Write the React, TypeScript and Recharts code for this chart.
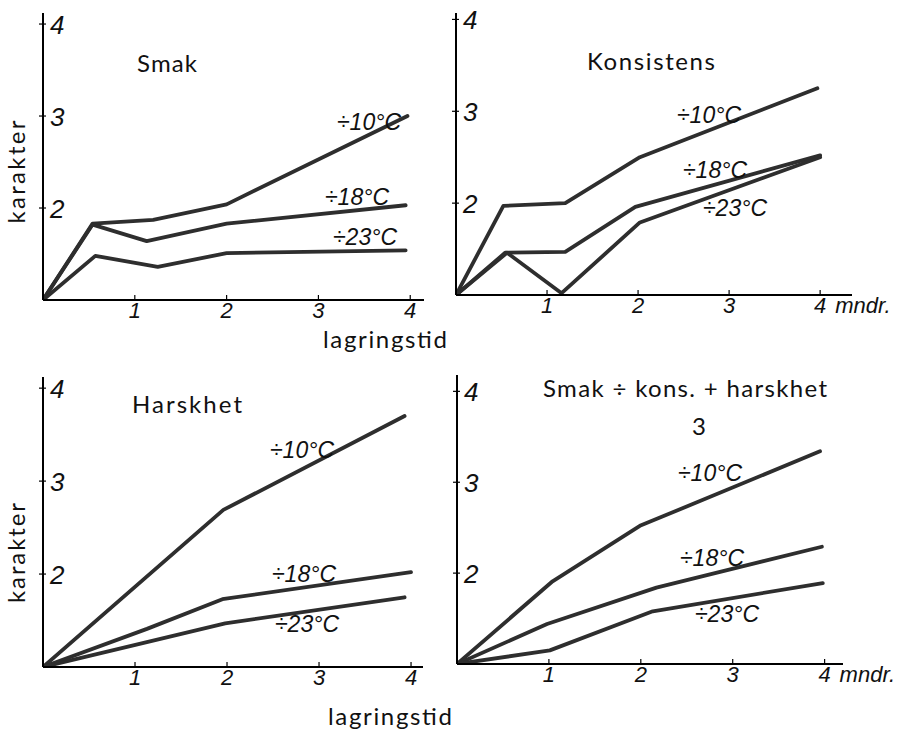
import { LineChart, Line, XAxis, YAxis } from 'recharts';

// lagringstid (måneder) og karakter, lest av figuren
const smakMnd10 = [0, 0.54, 1.2, 2, 3.97];
const smak10 = [1, 1.83, 1.87, 2.04, 3.0];
const smakMnd18 = [0, 0.54, 1.13, 2, 3.95];
const smak18 = [1, 1.82, 1.64, 1.83, 2.03];
const smakMnd23 = [0, 0.57, 1.25, 2, 3.95];
const smak23 = [1, 1.48, 1.36, 1.51, 1.54];

const konsMnd10 = [0, 0.52, 1.2, 2.02, 3.97];
const kons10 = [1, 1.97, 2.0, 2.5, 3.25];
const konsMnd18 = [0, 0.54, 1.2, 1.97, 4.0];
const kons18 = [1, 1.46, 1.47, 1.96, 2.52];
const konsMnd23 = [0, 0.56, 1.16, 2.02, 4.0];
const kons23 = [1, 1.46, 1.02, 1.79, 2.5];

const harskMnd10 = [0, 1.96, 3.93];
const harsk10 = [1, 2.69, 3.7];
const harskMnd18 = [0, 1.13, 1.95, 4.0];
const harsk18 = [1, 1.41, 1.73, 2.02];
const harskMnd23 = [0, 1.98, 3.93];
const harsk23 = [1, 1.47, 1.75];

const sumMnd10 = [0, 1.04, 1.99, 3.95];
const sum10 = [1, 1.91, 2.52, 3.34];
const sumMnd18 = [0, 0.98, 2.17, 3.97];
const sum18 = [1, 1.44, 1.84, 2.29];
const sumMnd23 = [0, 1.01, 2.13, 3.98];
const sum23 = [1, 1.15, 1.58, 1.89];

const xTicks = [1, 2, 3, 4];
const yTicks = [2, 3, 4];
const temps = ['÷10°C', '÷18°C', '÷23°C'];

const ink = '#2e2e2e';
const hand = '"Liberation Sans", Arial, sans-serif';
const print = 'Lato, "Open Sans", sans-serif';

const pts = (mnd: number[], vals: number[]) => mnd.map((m, i) => ({ x: m, y: vals[i] }));

function XTick({ x, y, payload, unit }: any) {
  const v = payload.value;
  return (
    <g>
      <line x1={x} x2={x} y1={y - 5} y2={y + 1} stroke="#000" strokeWidth={1.2} />
      <text x={x} y={y + 18} textAnchor="middle" fontFamily={hand} fontStyle="italic" fontSize={22} fill="#111">
        {v}
      </text>
      {unit && v === 4 ? (
        <text x={x + 15} y={y + 18} fontFamily={hand} fontStyle="italic" fontSize={22} fill="#111">
          mndr.
        </text>
      ) : null}
    </g>
  );
}

function YTick({ x, y, payload }: any) {
  return (
    <g>
      <line x1={x - 4} x2={x + 3} y1={y} y2={y} stroke="#000" strokeWidth={1.2} />
      <text x={x + 7} y={y + 10} fontFamily={hand} fontStyle="italic" fontSize={26} fill="#111">
        {payload.value}
      </text>
    </g>
  );
}

function Panel({ left, top, width, height, margin, xMax, yMax, series, unit }: any) {
  return (
    <div style={{ position: 'absolute', left, top }}>
      <LineChart width={width} height={height} margin={margin}>
        <XAxis
          type="number"
          dataKey="x"
          domain={[0, xMax]}
          ticks={xTicks}
          height={1}
          tickSize={0}
          tickMargin={0}
          tickLine={false}
          axisLine={{ stroke: '#000', strokeWidth: 2 }}
          tick={<XTick unit={unit} />}
          interval={0}
          allowDataOverflow
        />
        <YAxis
          type="number"
          dataKey="y"
          domain={[1, yMax]}
          ticks={yTicks}
          width={1}
          tickSize={0}
          tickMargin={0}
          tickLine={false}
          axisLine={{ stroke: '#000', strokeWidth: 2 }}
          tick={<YTick />}
          interval={0}
          allowDataOverflow
        />
        {series.map((s: any, i: number) => (
          <Line
            key={temps[i]}
            data={s}
            dataKey="y"
            type="linear"
            stroke={ink}
            strokeWidth={3.8}
            strokeLinejoin="round"
            strokeLinecap="round"
            dot={false}
            isAnimationActive={false}
          />
        ))}
      </LineChart>
    </div>
  );
}

const labelStyle = { fontFamily: hand, fontStyle: 'italic', fontSize: 23, fill: '#111' } as const;
const printStyle = { fontFamily: print, fontSize: 24, fill: '#111' } as const;

export default function App() {
  return (
    <div style={{ position: 'absolute', left: 0, top: 0, width: 901, height: 729, background: '#fff', overflow: 'hidden' }}>
      <Panel
        left={0}
        top={0}
        width={450}
        height={340}
        margin={{ top: 13, right: 26, bottom: 39, left: 42 }}
        xMax={4.15}
        yMax={4.12}
        series={[pts(smakMnd10, smak10), pts(smakMnd18, smak18), pts(smakMnd23, smak23)]}
      />
      <Panel
        left={440}
        top={0}
        width={461}
        height={340}
        margin={{ top: 13, right: 49, bottom: 44, left: 15 }}
        xMax={4.35}
        yMax={4.07}
        unit
        series={[pts(konsMnd10, kons10), pts(konsMnd18, kons18), pts(konsMnd23, kons23)]}
      />
      <Panel
        left={0}
        top={360}
        width={450}
        height={369}
        margin={{ top: 17, right: 27, bottom: 61, left: 42 }}
        xMax={4.13}
        yMax={4.12}
        series={[pts(harskMnd10, harsk10), pts(harskMnd18, harsk18), pts(harskMnd23, harsk23)]}
      />
      <Panel
        left={440}
        top={360}
        width={461}
        height={369}
        margin={{ top: 15, right: 58, bottom: 64, left: 16 }}
        xMax={4.2}
        yMax={4.18}
        unit
        series={[pts(sumMnd10, sum10), pts(sumMnd18, sum18), pts(sumMnd23, sum23)]}
      />
      <svg width={901} height={729} style={{ position: 'absolute', left: 0, top: 0, pointerEvents: 'none' }}>
        <text x={137} y={72} textLength={60} {...printStyle}>Smak</text>
        <text x={587} y={70} textLength={128} {...printStyle}>Konsistens</text>
        <text x={132} y={413} textLength={110} {...printStyle}>Harskhet</text>
        <text x={543} y={397} textLength={284} {...printStyle}>Smak ÷ kons. + harskhet</text>
        <text x={692} y={435} {...printStyle}>3</text>
        <text x={25} y={172} textAnchor="middle" textLength={103} transform="rotate(-90 25 172)" {...printStyle}>karakter</text>
        <text x={25} y={553} textAnchor="middle" textLength={100} transform="rotate(-90 25 553)" {...printStyle}>karakter</text>
        <text x={323} y={348} textLength={124} {...printStyle}>lagringstid</text>
        <text x={328} y={725} textLength={124} {...printStyle}>lagringstid</text>

        <text x={337} y={130} {...labelStyle}>{temps[0]}</text>
        <text x={325} y={205} {...labelStyle}>{temps[1]}</text>
        <text x={333} y={245} {...labelStyle}>{temps[2]}</text>

        <text x={677} y={123} {...labelStyle}>{temps[0]}</text>
        <text x={683} y={178} {...labelStyle}>{temps[1]}</text>
        <text x={703} y={216} {...labelStyle}>{temps[2]}</text>

        <text x={270} y={458} {...labelStyle}>{temps[0]}</text>
        <text x={272} y={582} {...labelStyle}>{temps[1]}</text>
        <text x={275} y={632} {...labelStyle}>{temps[2]}</text>

        <text x={678} y={481} {...labelStyle}>{temps[0]}</text>
        <text x={680} y={566} {...labelStyle}>{temps[1]}</text>
        <text x={695} y={622} {...labelStyle}>{temps[2]}</text>
      </svg>
    </div>
  );
}
